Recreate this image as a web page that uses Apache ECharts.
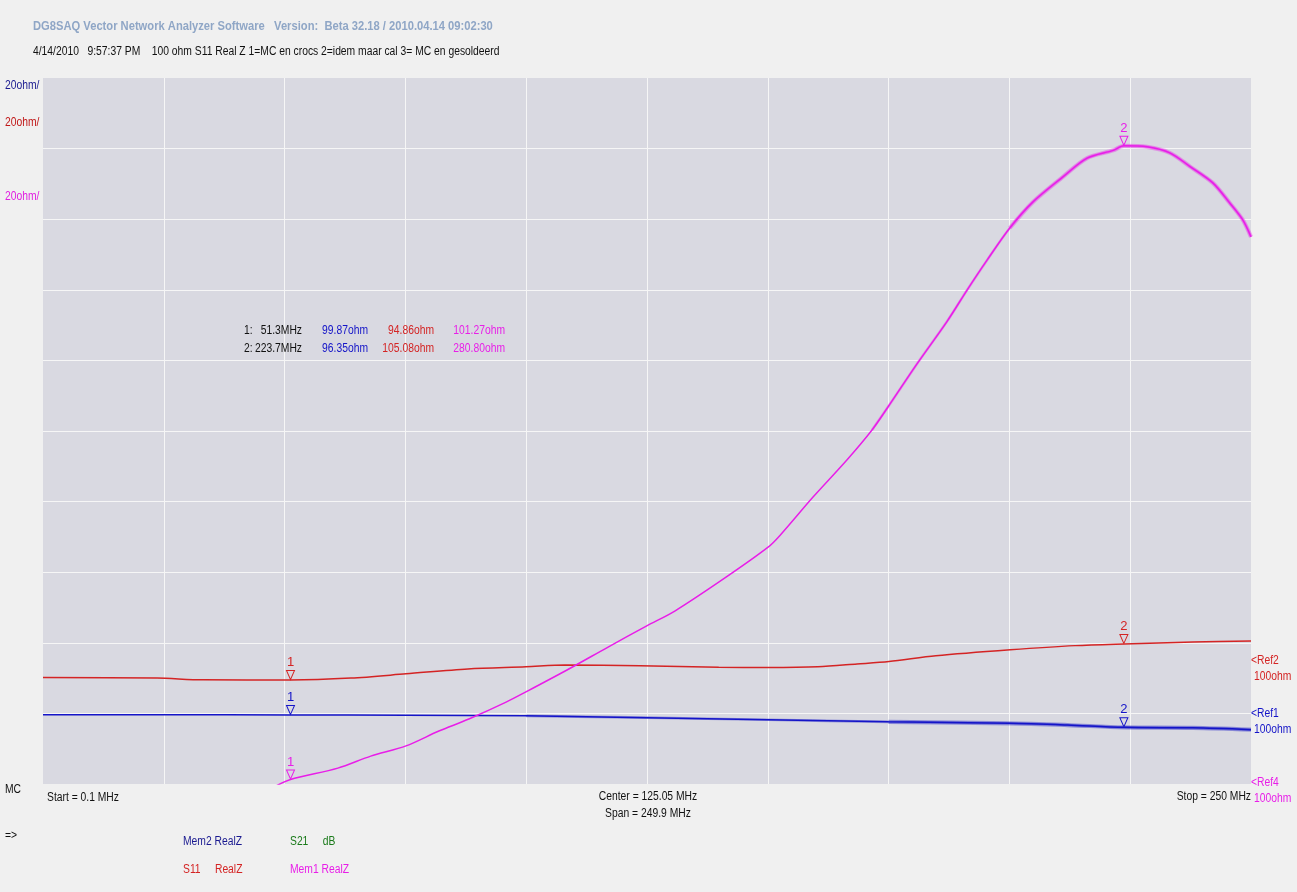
<!DOCTYPE html>
<html>
<head>
<meta charset="utf-8">
<script src="https://cdn.jsdelivr.net/npm/echarts@6/dist/echarts.min.js"></script>
<style>
  html, body { margin: 0; padding: 0; background: #f0f0f0; }
  #vna { width: 1297px; height: 892px; }
</style>
</head>
<body>
<div id="vna"></div>
<script>
// frequency sweep, MHz
const startMHz = 0.1;
const stopMHz = 250;

// Mem2 Real Z (blue)
const blueFreq = [0.1, 25, 51.3, 75, 100, 125, 150, 175, 200, 212, 223.7, 238, 250];
const blueOhm = [99.9, 99.9, 99.87, 99.8, 99.6, 99.1, 98.5, 97.9, 97.5, 97.0, 96.35, 96.2, 95.7];

// S11 Real Z (red)
const redFreq = [0.1, 23.7, 33.2, 51.3, 63.8, 75.2, 88.0, 100.0, 108.1, 123.6, 139.9, 150.1, 160.4, 168.5, 175.1, 184.8, 200.2, 213.6, 223.7, 238.0, 250];
const redOhm = [95.6, 95.4, 94.9, 94.86, 95.4, 96.6, 98.0, 98.6, 99.1, 98.9, 98.5, 98.4, 98.6, 99.4, 100.1, 101.7, 103.4, 104.6, 105.08, 105.6, 105.9];

// Mem1 Real Z (magenta)
const pinkFreq = [48.1, 51.3, 61.1, 67.9, 75.2, 82.0, 88.2, 95.9, 100.0, 108.5, 117.0, 125.0, 130.8, 141.4, 150.1, 152.6, 159.4, 166.4, 171.6, 174.9, 180.9, 187.1, 191.3, 195.4, 200.1, 204.9, 211.1, 216.1, 221.5, 223.7, 228.5, 233.2, 237.4, 242.1, 245.6, 248.3, 250.0];
const pinkOhm = [99.3, 101.27, 104.5, 107.9, 110.8, 115.0, 118.4, 123.2, 126.1, 132.3, 138.8, 144.8, 149.0, 158.6, 167.1, 170.5, 181.3, 191.8, 200.3, 206.8, 219.0, 231.0, 240.0, 248.4, 257.5, 264.9, 272.0, 277.3, 279.5, 280.8, 280.5, 278.8, 274.9, 270.3, 264.6, 259.8, 255.0];

// markers
const markerFreq = [51.3, 223.7];
const markerBlue = [99.87, 96.35];
const markerRed = [94.86, 105.08];
const markerPink = [101.27, 280.80];

// scale: 20 ohm/div, 10 divisions; axis bottoms so the refs land where they sit
const ohmPerDiv = 20;
const blueMin = 80.3;
const redMin = 65.4;
const pinkMin = 100;
const refOhm = 100;

// where the traces get visibly noisy (MHz), light then heavy
const blueNoisyFrom = [95, 175];
const pinkNoisyFrom = [170, 200];

const BLUE = '#1414c8';
const RED = '#d42424';
const PINK = '#e81ee8';
const FONT = '"Liberation Sans", Arial, sans-serif';
const SQUEEZE = 0.86; // the original UI font is a narrow one

const chart = echarts.init(document.getElementById('vna'));

function zip(f, v) {
  return f.map((x, i) => [x, v[i]]);
}

function markers(vals, color) {
  return {
    symbol: 'triangle',
    symbolSize: [8, 9],
    symbolRotate: 180,
    symbolOffset: [0, -5],
    itemStyle: { color: '#d9d9e1', borderColor: color, borderWidth: 1 },
    label: {
      show: true, position: 'top', distance: 1, color: color,
      fontFamily: FONT, fontSize: 13, formatter: '{b}'
    },
    data: markerFreq.map((f, i) => ({ name: String(i + 1), coord: [f, vals[i]] }))
  };
}

function trace(name, f, v, yIdx, color, marks) {
  return {
    name: name, type: 'line', xAxisIndex: 0, yAxisIndex: yIdx,
    data: zip(f, v), showSymbol: false, smooth: 0.3, z: 3,
    lineStyle: { color: color, width: 1.5 }, itemStyle: { color: color },
    animation: false, silent: true,
    markPoint: markers(marks, color)
  };
}

// faint, wider copies of the trace over its noisy stretch
function noise(f, v, froms, yIdx, color) {
  return froms.map((from, k) => ({
    type: 'line', xAxisIndex: 0, yAxisIndex: yIdx,
    data: zip(f, v).filter(p => p[0] >= from),
    showSymbol: false, smooth: 0.3, z: 2, silent: true, animation: false,
    lineStyle: { color: color, width: 2.6 + 1.6 * k, opacity: 0.35 }
  }));
}

const hiddenAxis = {
  axisLine: { show: false }, axisTick: { show: false },
  axisLabel: { show: false }, splitLine: { show: false }
};
const divAxis = {
  type: 'value', min: 0, max: 10, interval: 1,
  axisLine: { show: false }, axisTick: { show: false }, axisLabel: { show: false },
  splitLine: { show: true, showMinLine: false, showMaxLine: false, lineStyle: { color: '#f6f6f6', width: 1 } }
};

chart.setOption({
  backgroundColor: '#f0f0f0',
  animation: false,
  grid: {
    left: 43, top: 78, width: 1208, height: 706,
    show: true, backgroundColor: '#d9d9e1', borderWidth: 0
  },
  xAxis: [
    Object.assign({ type: 'value', min: startMHz, max: stopMHz }, hiddenAxis),
    divAxis
  ],
  yAxis: [
    divAxis,
    Object.assign({ type: 'value', min: blueMin, max: blueMin + 10 * ohmPerDiv }, hiddenAxis),
    Object.assign({ type: 'value', min: redMin, max: redMin + 10 * ohmPerDiv }, hiddenAxis),
    Object.assign({ type: 'value', min: pinkMin, max: pinkMin + 10 * ohmPerDiv }, hiddenAxis)
  ],
  series: [].concat(
    noise(blueFreq, blueOhm, blueNoisyFrom, 1, BLUE),
    noise(pinkFreq, pinkOhm, pinkNoisyFrom, 3, PINK),
    [
      trace('Mem2 RealZ', blueFreq, blueOhm, 1, BLUE, markerBlue),
      trace('S11 RealZ', redFreq, redOhm, 2, RED, markerRed),
      trace('Mem1 RealZ', pinkFreq, pinkOhm, 3, PINK, markerPink)
    ]
  )
});

function txtAt(x, y, s, color, align, font) {
  return {
    type: 'text', x: x, y: y, scaleX: SQUEEZE, silent: true,
    style: { text: s, fill: color, font: font || ('12px ' + FONT), align: align || 'left', verticalAlign: 'middle' }
  };
}

const g = [];
// header
g.push(txtAt(33, 26, 'DG8SAQ Vector Network Analyzer Software   Version:  Beta 32.18 / 2010.04.14 09:02:30',
  '#8fa6c6', 'left', 'bold 13px ' + FONT));
g.push(txtAt(33, 52, '4/14/2010   9:57:37 PM    100 ohm S11 Real Z 1=MC en crocs 2=idem maar cal 3= MC en gesoldeerd', '#111'));

// scale labels
g.push(txtAt(5, 86, ohmPerDiv + 'ohm/', '#1a1a90'));
g.push(txtAt(5, 123, ohmPerDiv + 'ohm/', '#c01818'));
g.push(txtAt(5, 197, ohmPerDiv + 'ohm/', '#e020e0'));

// marker readout
const rows = [331, 349];
markerFreq.forEach((f, i) => {
  g.push(txtAt(244, rows[i], (i + 1) + ':', '#111'));
  g.push(txtAt(302, rows[i], f.toFixed(1) + 'MHz', '#111', 'right'));
  g.push(txtAt(368, rows[i], markerBlue[i].toFixed(2) + 'ohm', BLUE, 'right'));
  g.push(txtAt(434, rows[i], markerRed[i].toFixed(2) + 'ohm', RED, 'right'));
  g.push(txtAt(505, rows[i], markerPink[i].toFixed(2) + 'ohm', PINK, 'right'));
});

// bottom sweep info
g.push(txtAt(5, 790, 'MC', '#111'));
g.push(txtAt(47, 798, 'Start = ' + startMHz + ' MHz', '#111'));
g.push(txtAt(648, 797, 'Center = ' + ((startMHz + stopMHz) / 2).toFixed(2) + ' MHz', '#111', 'center'));
g.push(txtAt(648, 814, 'Span = ' + (stopMHz - startMHz).toFixed(1) + ' MHz', '#111', 'center'));
g.push(txtAt(1251, 797, 'Stop = ' + stopMHz + ' MHz', '#111', 'right'));

// trace legend
g.push(txtAt(5, 836, '=>', '#111'));
g.push(txtAt(183, 842, 'Mem2 RealZ', '#1a1a90'));
g.push(txtAt(290, 842, 'S21     dB', '#1a7a1a'));
g.push(txtAt(183, 870, 'S11     RealZ', RED));
g.push(txtAt(290, 870, 'Mem1 RealZ', PINK));

// reference labels at the right edge
const refs = [['Ref2', 2, RED], ['Ref1', 1, BLUE], ['Ref4', 3, PINK]];
refs.forEach(r => {
  const y = chart.convertToPixel({ yAxisIndex: r[1] }, refOhm);
  g.push(txtAt(1251, y - 1, '<' + r[0], r[2]));
  g.push(txtAt(1254, y + 15, refOhm + 'ohm', r[2]));
});

chart.setOption({ graphic: g });
</script>
</body>
</html>
